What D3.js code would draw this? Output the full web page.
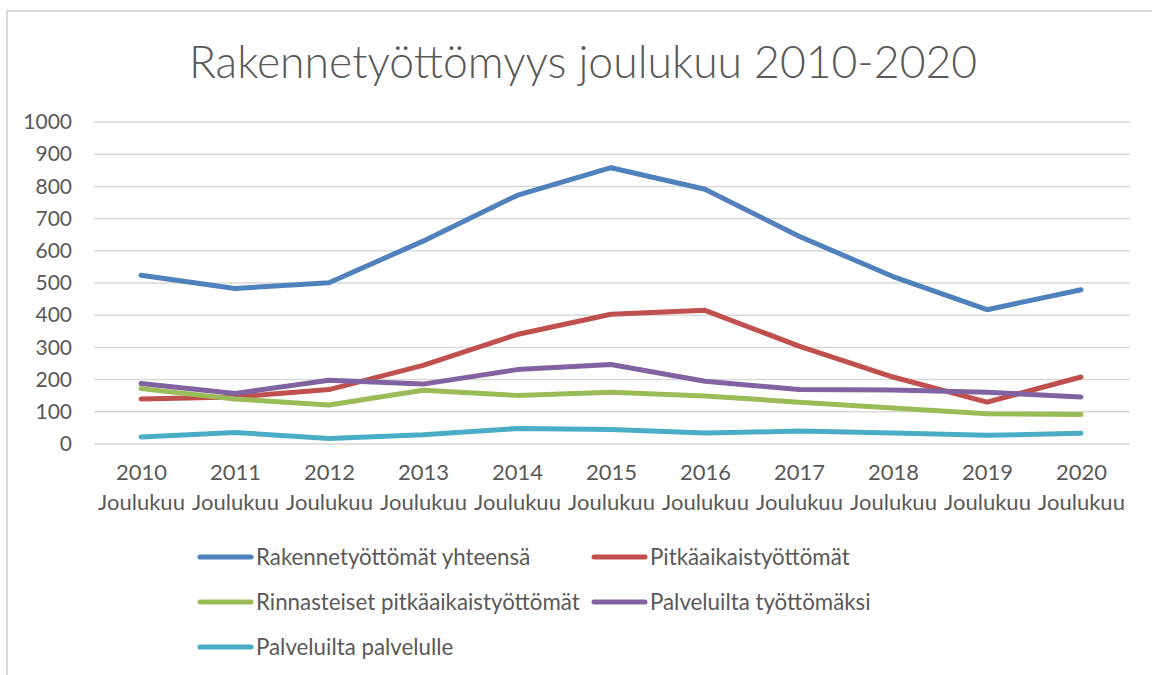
<!DOCTYPE html>
<html><head><meta charset="utf-8">
<script src="https://cdn.jsdelivr.net/npm/d3@7"></script>
<style>body{margin:0;background:#fff}svg{display:block}</style>
</head><body>
<script>
const years = ["2010","2011","2012","2013","2014","2015","2016","2017","2018","2019","2020"];
const monthLabel = "Joulukuu";
const yTicks = [0,100,200,300,400,500,600,700,800,900,1000];
const seriesNames = ["Rakennetyöttömät yhteensä","Pitkäaikaistyöttömät","Rinnasteiset pitkäaikaistyöttömät","Palveluilta työttömäksi","Palveluilta palvelulle"];
const seriesColors = ["#4F81BD","#C0504D","#9BBB59","#8064A2","#4BACC6"];
const rakennetyottomat = [524,483,501,630,772,858,791,645,520,417,479];
const pitkaaikais = [140,146,169,244,340,403,415,304,208,130,208];
const rinnasteiset = [172,140,121,167,151,161,149,130,112,94,92];
const palveluiltaTyottomaksi = [188,157,198,186,231,247,195,169,168,161,146];
const palveluiltaPalvelulle = [22,36,17,29,48,45,34,40,34,27,33];
const allSeries = [rakennetyottomat,pitkaaikais,rinnasteiset,palveluiltaTyottomaksi,palveluiltaPalvelulle];

const W=1152,H=675;
const FONT="Lato, 'Open Sans', sans-serif";
const svg=d3.select("body").append("svg").attr("width",W).attr("height",H);
svg.append("rect").attr("x",7).attr("y",11).attr("width",W+10).attr("height",H+10)
  .attr("fill","#fff").attr("stroke","#d9d9d9").attr("stroke-width",2);

svg.append("text").attr("x",583).attr("y",78).attr("text-anchor","middle")
  .attr("font-family",FONT).attr("font-weight",300).attr("font-size",44.5).attr("fill","#595959")
  .text("Rakennetyöttömyys joulukuu 2010-2020");

const x=d3.scalePoint().domain(years).range([141,1081]);
const y=d3.scaleLinear().domain([0,1000]).range([444,122]);

svg.append("g").selectAll("line").data(yTicks).join("line")
  .attr("x1",94).attr("x2",1130).attr("y1",d=>y(d)).attr("y2",d=>y(d))
  .attr("stroke","#d9d9d9").attr("stroke-width",1.5);

const yAxis=svg.append("g").attr("transform","translate(94,0)")
  .call(d3.axisLeft(y).tickValues(yTicks).tickFormat(d3.format("d")).tickSize(0).tickPadding(22));
yAxis.select(".domain").remove();
yAxis.selectAll("text").attr("font-family",FONT).attr("font-size",21).attr("fill","#595959");

const xAxis=svg.append("g").attr("transform","translate(0,444)")
  .call(d3.axisBottom(x).tickSize(0).tickFormat(()=>""));
xAxis.select(".domain").remove();
xAxis.selectAll(".tick").each(function(d){
  const t=d3.select(this).select("text").attr("font-family",FONT).attr("font-size",22).attr("fill","#595959").attr("y",0).attr("dy",null);
  t.append("tspan").attr("x",0).attr("y",36).text(d);
  t.append("tspan").attr("x",0).attr("y",66).text(monthLabel);
});

const line=d3.line().x((d,i)=>x(years[i])).y(d=>y(d));
svg.append("g").selectAll("path").data(allSeries).join("path")
  .attr("d",line).attr("fill","none").attr("stroke",(d,i)=>seriesColors[i])
  .attr("stroke-width",5).attr("stroke-linecap","round").attr("stroke-linejoin","round");

const legendPos=[[198,557],[592,557],[198,602],[592,602],[198,647]];
const lg=svg.append("g").selectAll("g").data(seriesNames).join("g")
  .attr("transform",(d,i)=>`translate(${legendPos[i][0]},${legendPos[i][1]})`);
lg.append("line").attr("x1",2).attr("x2",53).attr("stroke",(d,i)=>seriesColors[i]).attr("stroke-width",5).attr("stroke-linecap","round");
lg.append("text").attr("x",58).attr("dy","0.35em").attr("font-family",FONT).attr("font-size",22.3).attr("fill","#595959").text(d=>d);
</script>
</body></html>
